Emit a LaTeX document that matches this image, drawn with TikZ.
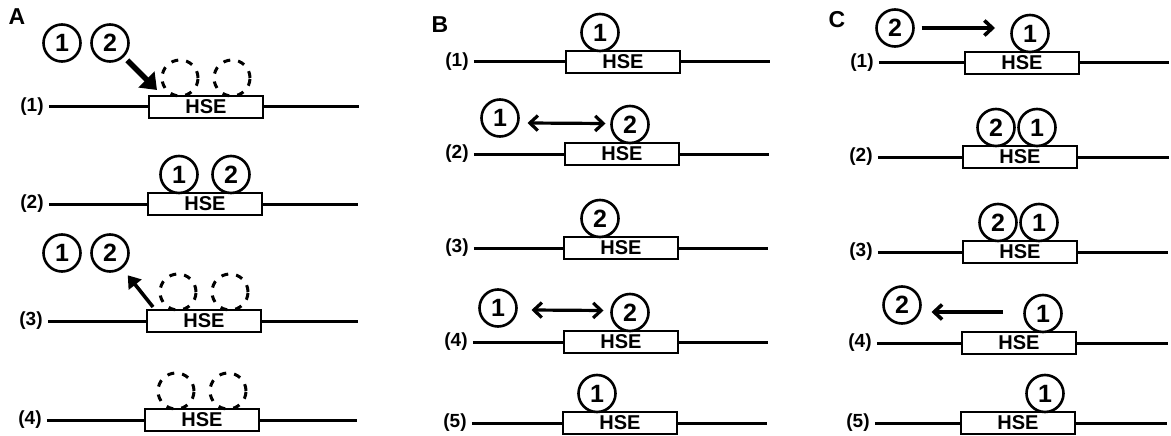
\documentclass[tikz,border=0pt]{standalone}
\usepackage{fontspec}
\setmainfont{Liberation Sans}
\usetikzlibrary{positioning,arrows.meta}

\tikzset{
  hse/.style={draw,line width=2.6pt,fill=white,minimum width=114pt,minimum height=22pt,inner sep=0pt,outer sep=0pt,font=\fontsize{20}{20}\selectfont\bfseries},
  prot/.style={draw,circle,line width=2.6pt,minimum size=37pt,inner sep=0pt,outer sep=0pt,font=\fontsize{25}{25}\selectfont\bfseries},
  ghost/.style={draw,circle,line width=3pt,dash pattern=on 7pt off 8pt,minimum size=36pt,inner sep=0pt,outer sep=0pt},
  rowlab/.style={font=\fontsize{19}{19}\selectfont\bfseries,inner sep=5pt},
  panel/.style={font=\fontsize{23}{23}\selectfont\bfseries},
  dna/.style={line width=3pt},
  bigin/.style={line width=5.5pt,shorten <=6pt,-{Triangle[length=15pt,width=22pt]}},
  smallout/.style={line width=3.6pt,shorten >=10pt,-{Triangle[length=12pt,width=16pt]}},
  swap/.style={line width=3.2pt,{Straight Barb[length=8pt,width=15pt]}-{Straight Barb[length=8pt,width=15pt]}},
  oneway/.style={line width=3.6pt,-{Straight Barb[length=8pt,width=15pt]}},
}

\begin{document}
\begin{tikzpicture}[x=1pt,y=-1pt]
  \useasboundingbox (0,0) rectangle (1171,436);

  % panel A
  \node[panel] (Alet) at (17,17) {A};

  \node[rowlab] (A1lab) at (32,107) {(1)};
  \node[hse] (A1box) at (206,107) {HSE};
  \coordinate (A1end) at (359,107);
  \draw[dna] (A1lab) -- (A1box) (A1box) -- (A1end);
  \node[ghost,anchor=south] (A1g1) at ([xshift=-26pt]A1box.north) {};
  \node[ghost,anchor=south] (A1g2) at ([xshift=26pt]A1box.north) {};
  \node[prot] (A1one) at (62,43) {1};
  \node[prot] (A1two) at (110,43) {2};
  \coordinate (A1tip) at (157,90);
  \draw[bigin] (A1two) -- (A1tip);

  \node[rowlab] (A2lab) at (32,204) {(2)};
  \node[hse] (A2box) at (205,204) {HSE};
  \coordinate (A2end) at (358,204);
  \draw[dna] (A2lab) -- (A2box) (A2box) -- (A2end);
  \node[prot,anchor=south] (A2one) at ([xshift=-26pt]A2box.north) {1};
  \node[prot,anchor=south] (A2two) at ([xshift=26pt]A2box.north) {2};

  \node[rowlab] (A3lab) at (31,321) {(3)};
  \node[hse] (A3box) at (204,321) {HSE};
  \coordinate (A3end) at (358,321);
  \draw[dna] (A3lab) -- (A3box) (A3box) -- (A3end);
  \node[ghost,anchor=south] (A3g1) at ([xshift=-26pt]A3box.north) {};
  \node[ghost,anchor=south] (A3g2) at ([xshift=26pt]A3box.north) {};
  \node[prot] (A3one) at (62,253) {1};
  \node[prot] (A3two) at (110,253) {2};
  \coordinate (A3from) at (153,307);
  \draw[smallout] (A3from) -- (A3two);

  \node[rowlab] (A4lab) at (30,420) {(4)};
  \node[hse] (A4box) at (202,420) {HSE};
  \coordinate (A4end) at (357,420);
  \draw[dna] (A4lab) -- (A4box) (A4box) -- (A4end);
  \node[ghost,anchor=south] (A4g1) at ([xshift=-26pt]A4box.north) {};
  \node[ghost,anchor=south] (A4g2) at ([xshift=26pt]A4box.north) {};

  % panel B
  \node[panel] (Blet) at (440,25) {B};

  \node[rowlab] (B1lab) at (457,62) {(1)};
  \node[hse] (B1box) at (623,62) {HSE};
  \coordinate (B1end) at (770,62);
  \draw[dna] (B1lab) -- (B1box) (B1box) -- (B1end);
  \node[prot,anchor=south] (B1one) at ([xshift=-23pt]B1box.north) {1};

  \node[rowlab] (B2lab) at (457,154) {(2)};
  \node[hse] (B2box) at (622,154) {HSE};
  \coordinate (B2end) at (769,154);
  \draw[dna] (B2lab) -- (B2box) (B2box) -- (B2end);
  \node[prot,anchor=south] (B2two) at ([xshift=8pt]B2box.north) {2};
  \node[prot] (B2one) at (500,118) {1};
  \draw[swap] ([shift={(9,5)}]B2one.east) -- ([shift={(-6,-1)}]B2two.west);

  \node[rowlab] (B3lab) at (457,248) {(3)};
  \node[hse] (B3box) at (621,248) {HSE};
  \coordinate (B3end) at (768,248);
  \draw[dna] (B3lab) -- (B3box) (B3box) -- (B3end);
  \node[prot,anchor=south] (B3two) at ([xshift=-21pt]B3box.north) {2};

  \node[rowlab] (B4lab) at (456,342) {(4)};
  \node[hse] (B4box) at (621,342) {HSE};
  \coordinate (B4end) at (768,342);
  \draw[dna] (B4lab) -- (B4box) (B4box) -- (B4end);
  \node[prot,anchor=south] (B4two) at ([xshift=9pt]B4box.north) {2};
  \node[prot] (B4one) at (498,308) {1};
  \draw[swap] ([shift={(15,2)}]B4one.east) -- ([shift={(-8,-2)}]B4two.west);

  \node[rowlab] (B5lab) at (455,423) {(5)};
  \node[hse] (B5box) at (620,423) {HSE};
  \coordinate (B5end) at (767,423);
  \draw[dna] (B5lab) -- (B5box) (B5box) -- (B5end);
  \node[prot,anchor=south] (B5one) at ([xshift=-23pt]B5box.north) {1};

  % panel C
  \node[panel] (Clet) at (837,20) {C};

  \node[rowlab] (C1lab) at (862,63) {(1)};
  \node[hse] (C1box) at (1022,63) {HSE};
  \coordinate (C1end) at (1169,63);
  \draw[dna] (C1lab) -- (C1box) (C1box) -- (C1end);
  \node[prot,anchor=south] (C1one) at ([xshift=8pt]C1box.north) {1};
  \node[prot] (C1two) at (895,28) {2};
  \coordinate (C1tip) at (995,28);
  \draw[oneway,shorten <=8pt] (C1two) -- (C1tip);

  \node[rowlab] (C2lab) at (861,157) {(2)};
  \node[hse] (C2box) at (1020,157) {HSE};
  \coordinate (C2end) at (1169,157);
  \draw[dna] (C2lab) -- (C2box) (C2box) -- (C2end);
  \node[prot,anchor=south] (C2two) at ([xshift=-24pt]C2box.north) {2};
  \node[prot,anchor=south] (C2one) at ([xshift=17pt]C2box.north) {1};

  \node[rowlab] (C3lab) at (861,252) {(3)};
  \node[hse] (C3box) at (1020,252) {HSE};
  \coordinate (C3end) at (1168,252);
  \draw[dna] (C3lab) -- (C3box) (C3box) -- (C3end);
  \node[prot,anchor=south] (C3two) at ([xshift=-22pt]C3box.north) {2};
  \node[prot,anchor=south] (C3one) at ([xshift=19pt]C3box.north) {1};

  \node[rowlab] (C4lab) at (860,343) {(4)};
  \node[hse] (C4box) at (1019,343) {HSE};
  \coordinate (C4end) at (1168,343);
  \draw[dna] (C4lab) -- (C4box) (C4box) -- (C4end);
  \node[prot,anchor=south] (C4one) at ([xshift=24pt]C4box.north) {1};
  \node[prot] (C4two) at (902,305) {2};
  \coordinate (C4from) at (1003,312);
  \draw[oneway] (C4from) -- ([shift={(11,7)}]C4two.east);

  \node[rowlab] (C5lab) at (858,423) {(5)};
  \node[hse] (C5box) at (1018,423) {HSE};
  \coordinate (C5end) at (1167,423);
  \draw[dna] (C5lab) -- (C5box) (C5box) -- (C5end);
  \node[prot,anchor=south] (C5one) at ([xshift=27pt]C5box.north) {1};
\end{tikzpicture}
\end{document}
